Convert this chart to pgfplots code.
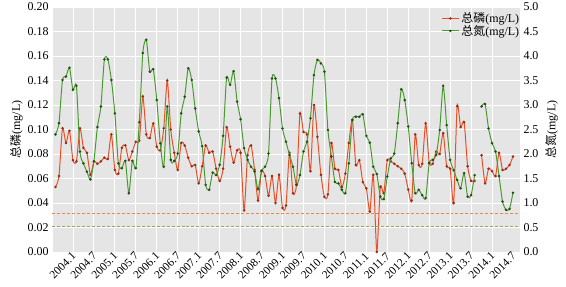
\documentclass[border=0pt]{standalone}
\usepackage{fontspec}
\setmainfont{Liberation Serif}
\newfontfamily\cjk{Noto Sans CJK SC}
\usepackage{pgfplots}
\usepackage{pgfplotstable}
\pgfplotsset{compat=1.18}
\definecolor{bgg}{HTML}{E5E5E5}
\definecolor{tpred}{HTML}{E8502A}
\definecolor{tngreen}{HTML}{4A9A32}
\definecolor{refor}{HTML}{E9874F}
\definecolor{refgr}{HTML}{A3A35A}

\pgfplotstableread{
m tp tn
1 0.053 2.40
2 0.062 2.63
3 0.101 3.51
4 0.089 3.58
5 0.099 3.76
6 0.075 3.31
7 0.074 3.39
8 0.101 2.05
9 0.085 1.81
10 0.081 1.64
11 0.063 1.48
12 0.074 1.85
13 0.072 2.55
14 0.074 2.97
15 0.077 3.93
16 0.076 3.93
17 0.096 3.51
18 0.067 2.83
19 0.064 1.81
20 0.085 1.71
21 0.087 1.86
22 0.075 1.20
23 0.082 1.86
24 0.090 1.71
25 0.091 2.65
26 0.127 4.06
27 0.096 4.33
28 0.093 3.68
29 0.105 3.73
30 0.086 3.10
31 0.083 2.22
32 0.101 1.74
33 0.140 2.97
34 0.100 1.88
35 0.081 1.86
36 0.067 2.01
37 0.089 2.83
38 0.087 3.17
39 0.077 3.75
40 0.070 3.51
41 0.071 2.93
42 0.056 2.46
43 0.070 2.16
44 0.087 1.37
45 0.081 1.27
46 0.082 1.62
47 0.068 1.57
48 0.058 1.78
49 0.068 2.37
50 0.102 3.56
51 0.086 3.41
52 0.073 3.69
53 0.083 3.07
54 0.081 2.71
55 0.034 2.12
56 0.079 1.88
57 0.087 1.74
58 0.067 1.64
59 0.042 1.28
60 0.066 1.66
61 0.062 1.74
62 0.046 2.01
63 0.062 3.54
64 0.040 3.54
65 0.063 3.14
66 0.036 2.52
67 0.038 2.25
68 0.081 1.98
69 0.048 1.74
70 0.055 1.37
71 0.113 1.57
72 0.098 2.05
73 0.096 2.25
74 0.066 2.73
75 0.120 3.61
76 0.094 3.92
77 0.063 3.85
78 0.045 3.68
79 0.047 2.49
80 0.089 1.95
81 0.068 1.43
82 0.067 1.40
83 0.053 1.27
84 0.064 1.20
85 0.089 1.81
86 0.108 2.69
87 0.071 2.76
88 0.075 2.76
89 0.057 2.81
90 0.052 2.37
91 0.033 2.23
92 0.063 1.74
93 0.000 1.59
94 0.053 1.13
95 0.048 1.08
96 0.075 1.54
97 0.074 1.91
98 0.072 2.01
99 0.070 2.63
100 0.068 3.32
101 0.064 3.10
102 0.051 2.56
103 0.042 1.81
104 0.096 1.20
105 0.071 1.27
106 0.072 1.16
107 0.105 1.10
108 0.073 1.81
109 0.072 1.88
110 0.082 1.98
111 0.080 2.49
112 0.097 3.39
113 0.070 2.59
114 0.068 1.88
115 0.040 1.67
116 0.119 1.47
117 0.102 1.30
118 0.106 1.61
119 0.070 1.13
120 0.058 1.16
121 0.058 1.57
122 nan nan
123 0.079 2.97
124 0.056 3.02
125 0.068 2.52
126 0.066 2.22
127 0.062 2.05
128 0.081 1.55
129 0.067 1.03
130 0.068 0.86
131 0.071 0.88
132 0.078 1.21
}\data

\begin{document}
\begin{tikzpicture}
\pgfplotsset{
  every axis/.append style={
    scale only axis, width=468bp, height=245bp,
    xmin=0, xmax=134,
    font=\fontsize{12}{14}\selectfont,
    tick style={draw=none},
    unbounded coords=jump,
  },
}
\begin{axis}[
  ymin=0, ymax=0.2,
  ytick={0,0.02,...,0.2},
  yticklabel style={/pgf/number format/fixed, /pgf/number format/fixed zerofill, /pgf/number format/precision=2, /pgf/number format/assume math mode=true},
  scaled y ticks=false,
  xtick={0,6,...,126},
  xticklabels={2004.1,2004.7,2005.1,2005.7,2006.1,2006.7,2007.1,2007.7,2008.1,2008.7,2009.1,2009.7,2010.1,2010.7,2011.1,2011.7,2012.1,2012.7,2013.1,2013.7,2014.1,2014.7},
  xticklabel style={rotate=45, anchor=center, yshift=-17bp, xshift=-2bp, inner sep=0pt, font=\fontsize{11.5}{13}\selectfont},
  axis background/.style={fill=bgg},
  xmajorgrids, ymajorgrids,
  grid style={white, line width=0.9bp},
  axis line style={draw=none},
  ylabel={{\cjk 总磷}(mg/L)},
  ylabel style={yshift=-2bp},
]
\addplot[refor, densely dashed, line width=0.6bp] coordinates {(0,0.0315) (134,0.0315)};
\addplot[tpred, line width=1bp, smooth, tension=0.4, mark=*, mark size=0.7bp, mark options={fill=tpred!60!black, draw=tpred!60!black}] table[x=m, y=tp] {\data};
\end{axis}
\begin{axis}[
  ymin=0, ymax=5,
  ytick={0,0.5,...,5},
  yticklabel style={/pgf/number format/fixed, /pgf/number format/fixed zerofill, /pgf/number format/precision=1, /pgf/number format/assume math mode=true},
  axis y line*=right,
  axis x line=none,
  axis line style={draw=none},
  ylabel={{\cjk 总氮}(mg/L)},
  legend style={at={(1.005,0.99)}, anchor=north east, draw=none, fill=none, font=\fontsize{12}{13}\selectfont, row sep=-3bp, inner sep=1bp},
  legend cell align=left,
]
\addlegendimage{tpred, line width=1bp, mark=*, mark size=0.7bp, mark options={fill=tpred!60!black, draw=tpred!60!black}}
\addlegendentry{{\cjk 总磷}(mg/L)}
\addplot[refgr, densely dashed, line width=0.6bp, forget plot] coordinates {(0,0.53) (134,0.53)};
\addplot[tngreen, line width=1bp, smooth, tension=0.4, mark=*, mark size=0.7bp, mark options={fill=tngreen!50!black, draw=tngreen!50!black}] table[x=m, y=tn] {\data};
\addlegendentry{{\cjk 总氮}(mg/L)}
\end{axis}
\pgfresetboundingbox
\path (-52bp,-35bp) rectangle (514bp,252bp);
\end{tikzpicture}
\end{document}
